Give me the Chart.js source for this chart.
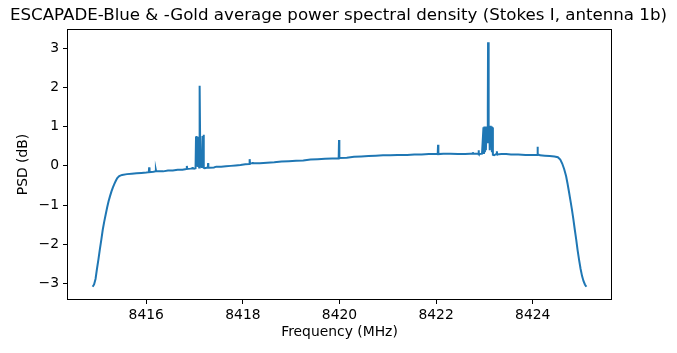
<!DOCTYPE html>
<html>
<head>
<meta charset="utf-8">
<script src="https://cdn.jsdelivr.net/npm/chart.js@4/dist/chart.umd.min.js"></script>
<style>
  body { margin: 0; background: #fff; }
  #wrap { width: 677px; height: 353px; }
</style>
</head>
<body>
<div id="wrap"><canvas id="grafica" width="677" height="353"></canvas></div>
<script>
// frecuencias (MHz) y densidad espectral (dB)
var frecuencias = [
  8414.89, 8414.92, 8414.95, 8414.98, 8415.01, 8415.04, 8415.07, 8415.10, 8415.13, 8415.16,
  8415.19, 8415.22, 8415.25, 8415.28, 8415.31, 8415.34, 8415.37, 8415.40, 8415.44, 8415.50,
  8415.60, 8415.70, 8415.80, 8415.90, 8416.00, 8416.052, 8416.06, 8416.068, 8416.15, 8416.195,
  8416.20, 8416.205, 8416.35, 8416.45, 8416.55, 8416.65, 8416.75, 8416.832, 8416.84, 8416.848,
  8416.92, 8416.955, 8416.96, 8416.965, 8416.99, 8417.02, 8417.03, 8417.035, 8417.045, 8417.055,
  8417.065, 8417.075, 8417.085, 8417.095, 8417.100, 8417.105, 8417.110, 8417.12, 8417.135, 8417.15,
  8417.165, 8417.175, 8417.185, 8417.195, 8417.21, 8417.25, 8417.275, 8417.28, 8417.285, 8417.30,
  8417.40, 8417.45, 8417.55, 8417.65, 8417.75, 8417.85, 8417.95, 8418.05, 8418.132, 8418.14,
  8418.148, 8418.195, 8418.20, 8418.205, 8418.35, 8418.50, 8418.65, 8418.80, 8418.95, 8419.10,
  8419.25, 8419.40, 8419.55, 8419.70, 8419.85, 8419.983, 8419.99, 8419.997, 8420.15, 8420.30,
  8420.45, 8420.60, 8420.75, 8420.90, 8421.05, 8421.20, 8421.40, 8421.55, 8421.70, 8421.85,
  8421.95, 8422.033, 8422.04, 8422.047, 8422.15, 8422.30, 8422.45, 8422.60, 8422.70, 8422.755,
  8422.76, 8422.765, 8422.86, 8422.875, 8422.88, 8422.885, 8422.95, 8422.98, 8422.99, 8423.00,
  8423.01, 8423.02, 8423.03, 8423.045, 8423.06, 8423.07, 8423.075, 8423.085, 8423.09, 8423.10,
  8423.11, 8423.12, 8423.13, 8423.145, 8423.155, 8423.165, 8423.175, 8423.20, 8423.24, 8423.255,
  8423.26, 8423.265, 8423.35, 8423.45, 8423.55, 8423.70, 8423.85, 8424.00, 8424.06, 8424.08,
  8424.095, 8424.10, 8424.105, 8424.15, 8424.25, 8424.35, 8424.45, 8424.52, 8424.57, 8424.61,
  8424.65, 8424.69, 8424.72, 8424.75, 8424.78, 8424.81, 8424.84, 8424.87, 8424.90, 8424.93,
  8424.96, 8424.99, 8425.02, 8425.05, 8425.08, 8425.11
];
var psd = [
  -3.08, -3.02, -2.88, -2.62, -2.38, -2.12, -1.88, -1.62, -1.42, -1.24,
  -1.06, -0.90, -0.77, -0.65, -0.55, -0.46, -0.38, -0.31, -0.26, -0.23,
  -0.21, -0.20, -0.19, -0.18, -0.17, -0.16, -0.04, -0.16, -0.15, -0.14,
  -0.11, -0.14, -0.14, -0.12, -0.12, -0.10, -0.10, -0.08, 0.00, -0.08,
  -0.07, -0.06, -0.03, -0.06, -0.07, -0.06, 0.74, -0.02, 0.76, 0.05,
  0.74, 0.00, 0.30, -0.04, 2.04, 1.20, 2.03, -0.03, 0.25, -0.05,
  0.76, 0.10, 0.79, -0.05, -0.06, -0.05, -0.05, 0.07, -0.05, -0.05,
  -0.04, -0.02, -0.02, -0.01, 0.00, 0.01, 0.02, 0.04, 0.05, 0.17,
  0.06, 0.07, 0.10, 0.07, 0.07, 0.08, 0.09, 0.11, 0.12, 0.13,
  0.14, 0.16, 0.17, 0.18, 0.19, 0.19, 0.66, 0.20, 0.21, 0.23,
  0.24, 0.25, 0.26, 0.27, 0.27, 0.28, 0.28, 0.29, 0.29, 0.30,
  0.30, 0.30, 0.54, 0.30, 0.31, 0.31, 0.30, 0.30, 0.31, 0.31,
  0.35, 0.31, 0.31, 0.31, 0.40, 0.30, 0.31, 0.98, 0.30, 1.00,
  0.35, 0.98, 0.40, 1.00, 0.60, 1.42, 3.15, 3.10, 0.80, 1.00,
  0.40, 1.02, 0.50, 1.00, 0.35, 0.98, 0.28, 0.27, 0.30, 0.29,
  0.37, 0.29, 0.30, 0.30, 0.29, 0.29, 0.28, 0.28, 0.28, 0.28,
  0.28, 0.49, 0.30, 0.27, 0.26, 0.25, 0.24, 0.22, 0.16, 0.06,
  -0.08, -0.26, -0.45, -0.66, -0.88, -1.10, -1.35, -1.62, -1.88, -2.16,
  -2.40, -2.62, -2.80, -2.93, -3.02, -3.08
];
var ticksX = [8416, 8418, 8420, 8422, 8424];
var ticksY = [-3, -2, -1, 0, 1, 2, 3];

var fuente = 'DejaVu Sans';

// dibuja el marco completo alrededor del area del grafico
var marco = {
  id: 'marco',
  afterDraw: function (chart) {
    var a = chart.chartArea;
    var ctx = chart.ctx;
    ctx.save();
    ctx.strokeStyle = '#000';
    ctx.lineWidth = 1;
    ctx.strokeRect(Math.round(a.left) - 0.5, Math.round(a.top) - 0.5,
      Math.round(a.right - a.left) + 1, Math.round(a.bottom - a.top) + 1);
    ctx.restore();
  }
};

function menos(v) {
  return v < 0 ? '\u2212' + Math.abs(v) : String(v);
}

var puntos = [];
for (let i = 0; i < frecuencias.length; i++) {
  puntos.push({ x: frecuencias[i], y: psd[i] });
}

var canvas = document.getElementById('grafica');
var grafica = new Chart(canvas, {
  type: 'line',
  data: {
    datasets: [{
      data: puntos,
      borderColor: '#1f77b4',
      borderWidth: 2,
      pointRadius: 0,
      tension: 0,
      fill: false
    }]
  },
  options: {
    responsive: false,
    animation: false,
    devicePixelRatio: 1,
    layout: { padding: 0 },
    plugins: {
      legend: { display: false },
      tooltip: { enabled: false },
      title: {
        display: true,
        text: 'ESCAPADE-Blue & -Gold average power spectral density (Stokes I, antenna 1b)',
        color: '#000',
        font: { family: fuente, size: 16.67, weight: 'normal' },
        padding: { top: 6, bottom: 4 }
      }
    },
    scales: {
      x: {
        type: 'linear',
        min: 8414.38,
        max: 8425.62,
        afterBuildTicks: function (s) { s.ticks = ticksX.map(v => ({ value: v })); },
        afterFit: function (s) { s.height = 54; },
        border: { display: false },
        grid: { display: true, drawOnChartArea: false, drawTicks: true, tickLength: 5, color: '#000' },
        ticks: {
          color: '#000', padding: 3, maxRotation: 0, autoSkip: false,
          font: { family: fuente, size: 13.89 },
          callback: function (v) { return String(v); }
        },
        title: {
          display: true, text: 'Frequency (MHz)', color: '#000',
          font: { family: fuente, size: 13.89 },
          padding: { top: 0, bottom: 12 }
        }
      },
      y: {
        type: 'linear',
        position: 'left',
        min: -3.39,
        max: 3.46,
        afterBuildTicks: function (s) { s.ticks = ticksY.map(v => ({ value: v })); },
        afterFit: function (s) { s.width = 68; },
        border: { display: false },
        grid: { display: true, drawOnChartArea: false, drawTicks: true, tickLength: 5, color: '#000' },
        ticks: {
          color: '#000', padding: 4, autoSkip: false,
          font: { family: fuente, size: 13.89 },
          callback: function (v) { return menos(v); }
        },
        title: {
          display: true, text: 'PSD (dB)', color: '#000',
          font: { family: fuente, size: 13.89 },
          padding: { top: 15, bottom: 0 }
        }
      },
      derecha: {
        type: 'linear',
        position: 'right',
        display: true,
        afterFit: function (s) { s.width = 66; },
        border: { display: false },
        grid: { display: false },
        ticks: { display: false }
      }
    }
  },
  plugins: [marco]
});
</script>
</body>
</html>
